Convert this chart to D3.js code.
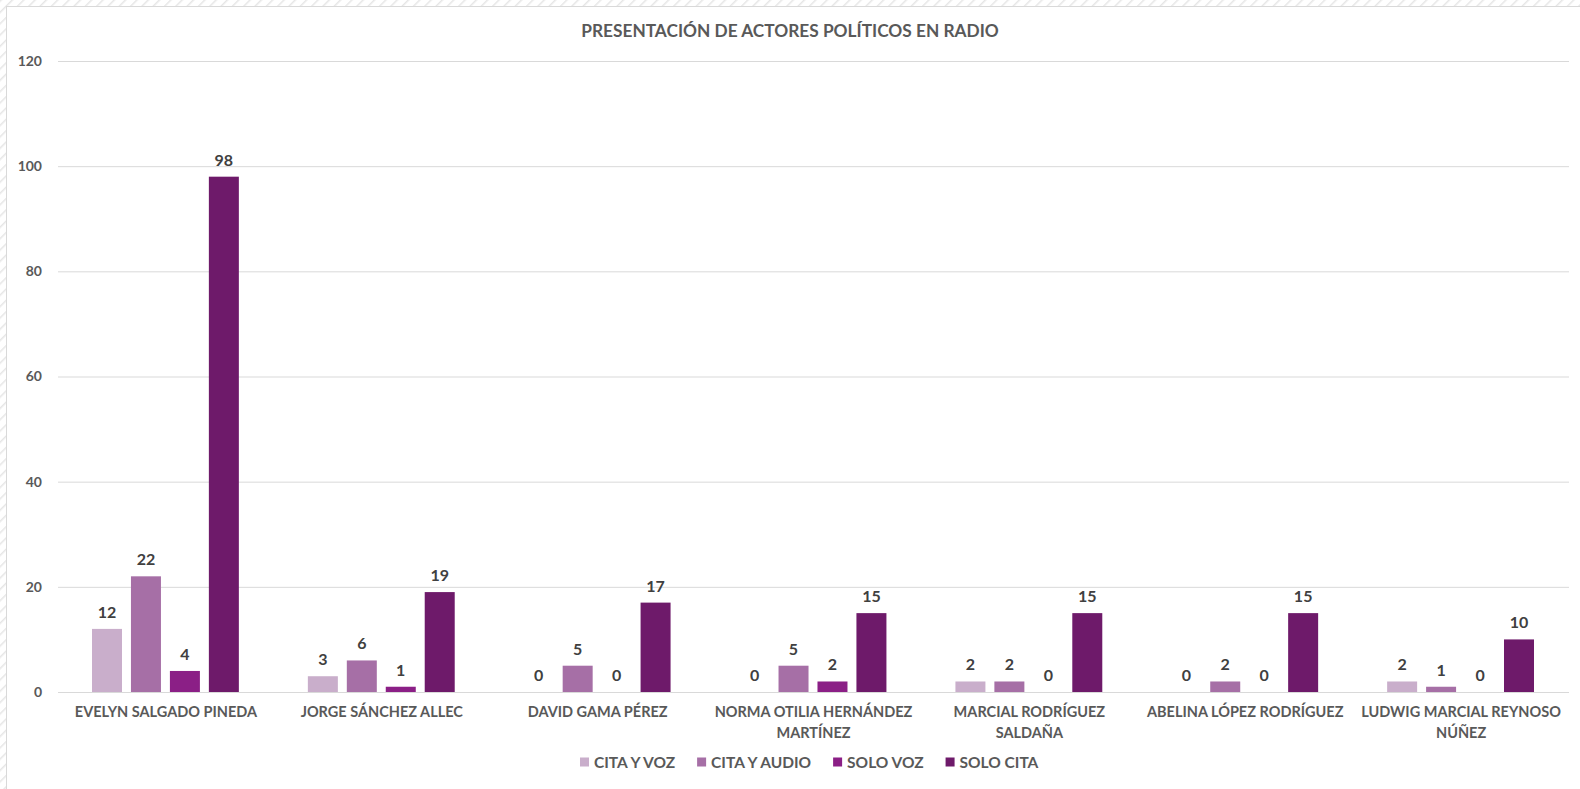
<!DOCTYPE html>
<html lang="en">
<head>
    <meta charset="UTF-8">
    <title>Presentación de actores políticos en radio</title>
    <script src="https://d3js.org/d3.v7.min.js"></script>
    <style>
        body { margin: 0; background: #fff; }
        svg { display: block; font-family: Lato, "Open Sans", sans-serif; }
    </style>
</head>
<body>
<svg width="1580" height="789"></svg>
<script>
    const actors = [
        "EVELYN SALGADO PINEDA",
        "JORGE SÁNCHEZ ALLEC",
        "DAVID GAMA PÉREZ",
        "NORMA OTILIA HERNÁNDEZ MARTÍNEZ",
        "MARCIAL RODRÍGUEZ SALDAÑA",
        "ABELINA LÓPEZ RODRÍGUEZ",
        "LUDWIG MARCIAL REYNOSO NÚÑEZ"
    ];
    const seriesNames = ["CITA Y VOZ", "CITA Y AUDIO", "SOLO VOZ", "SOLO CITA"];
    const citaYVoz = [12, 3, 0, 0, 2, 0, 2];
    const citaYAudio = [22, 6, 5, 5, 2, 2, 1];
    const soloVoz = [4, 1, 0, 2, 0, 0, 0];
    const soloCita = [98, 19, 17, 15, 15, 15, 10];
    const yTicks = [0, 20, 40, 60, 80, 100, 120];
    const colors = ["#c9aecb", "#a66fa6", "#8b1f86", "#6e1a6a"];

    const seriesValues = [citaYVoz, citaYAudio, soloVoz, soloCita];

    const svg = d3.select("svg");
    const margin = { top: 61, right: 11, bottom: 97, left: 58 },
        width = 1580 - margin.left - margin.right,
        height = 789 - margin.top - margin.bottom;

    // hatched frame outside the chart area
    const defs = svg.append("defs");
    const pat = defs.append("pattern")
        .attr("id", "hatch").attr("width", 8).attr("height", 8)
        .attr("patternUnits", "userSpaceOnUse")
        .attr("patternTransform", "rotate(45)");
    pat.append("line").attr("x1", 0).attr("y1", 0).attr("x2", 0).attr("y2", 8)
        .attr("stroke", "#e6e6e6").attr("stroke-width", 3);
    svg.append("rect").attr("width", 1580).attr("height", 789).attr("fill", "url(#hatch)");
    svg.append("rect").attr("x", 6.5).attr("y", 6.5).attr("width", 1580).attr("height", 790)
        .attr("fill", "#fff").attr("stroke", "#d9d9d9");

    const g = svg.append("g").attr("transform", `translate(${margin.left},${margin.top})`);

    const x0 = d3.scaleBand().domain(actors).range([0, width]).paddingInner(0).paddingOuter(0);
    const x1 = d3.scaleBand().domain(seriesNames).range([34, x0.bandwidth() - 35]).paddingInner(0.23);
    const y = d3.scaleLinear().domain([0, 120]).range([height, 0]);

    // gridlines + y labels
    const yAxis = g.append("g")
        .call(d3.axisLeft(y).tickValues(yTicks).tickSize(-width).tickPadding(16));
    yAxis.select(".domain").remove();
    yAxis.selectAll(".tick line").attr("stroke", "#d9d9d9").attr("stroke-width", 1);
    yAxis.selectAll(".tick text")
        .attr("fill", "#595959").attr("font-size", 14).attr("font-weight", "bold")
        .attr("font-family", "Lato, sans-serif");

    const groups = g.selectAll(".grp")
        .data(actors)
        .enter().append("g")
        .attr("transform", d => `translate(${x0(d)},0)`);

    groups.each(function(actor, i) {
        const gg = d3.select(this);
        const vals = seriesNames.map((s, k) => ({ s, v: seriesValues[k][i], k }));
        gg.selectAll("rect").data(vals).enter().append("rect")
            .attr("x", d => x1(d.s))
            .attr("y", d => y(d.v))
            .attr("width", x1.bandwidth())
            .attr("height", d => height - y(d.v))
            .attr("fill", d => colors[d.k]);
        gg.selectAll("text.val").data(vals).enter().append("text")
            .attr("class", "val")
            .attr("x", d => x1(d.s) + x1.bandwidth() / 2)
            .attr("y", d => y(d.v) - 11)
            .attr("text-anchor", "middle")
            .attr("fill", "#404040")
            .attr("font-size", 16).attr("font-weight", "bold")
            .text(d => d.v);
    });

    // x axis baseline
    g.append("line").attr("x1", 0).attr("x2", width).attr("y1", height + 0.5).attr("y2", height + 0.5)
        .attr("stroke", "#d9d9d9");

    // category labels with wrapping
    const xAxis = g.append("g").attr("transform", `translate(0,${height})`)
        .call(d3.axisBottom(x0).tickSize(0).tickPadding(15));
    xAxis.select(".domain").remove();
    xAxis.selectAll(".tick text")
        .attr("fill", "#595959").attr("font-size", 14.5).attr("font-weight", "bold")
        .attr("font-family", "Lato, sans-serif")
        .call(wrap, 200);

    function wrap(texts, w) {
        texts.each(function() {
            const t = d3.select(this);
            const words = t.text().split(/\s+/);
            const yy = t.attr("y"), dy = parseFloat(t.attr("dy"));
            t.text(null);
            let line = [], lineNo = 0;
            let tspan = t.append("tspan").attr("x", 0).attr("y", yy).attr("dy", dy + "em");
            words.forEach(word => {
                line.push(word);
                tspan.text(line.join(" "));
                if (tspan.node().getComputedTextLength() > w && line.length > 1) {
                    line.pop();
                    tspan.text(line.join(" "));
                    line = [word];
                    tspan = t.append("tspan").attr("x", 0).attr("y", yy)
                        .attr("dy", (++lineNo * 1.45 + dy) + "em").text(word);
                }
            });
        });
    }

    // title
    svg.append("text")
        .attr("x", 790).attr("y", 37)
        .attr("text-anchor", "middle")
        .attr("fill", "#595959").attr("font-size", 17.3).attr("font-weight", "bold")
        .text("PRESENTACIÓN DE ACTORES POLÍTICOS EN RADIO");

    // legend
    const legend = svg.append("g").attr("transform", "translate(580,762)");
    let lx = 0;
    seriesNames.forEach((s, k) => {
        const item = legend.append("g").attr("transform", `translate(${lx},0)`);
        item.append("rect").attr("x", 0).attr("y", -4.5).attr("width", 9).attr("height", 9).attr("fill", colors[k]);
        const txt = item.append("text").attr("x", 14).attr("y", 5.5)
            .attr("fill", "#595959").attr("font-size", 15.5).attr("font-weight", "bold")
            .text(s);
        lx += 14 + txt.node().getComputedTextLength() + 22;
    });
</script>
</body>
</html>
